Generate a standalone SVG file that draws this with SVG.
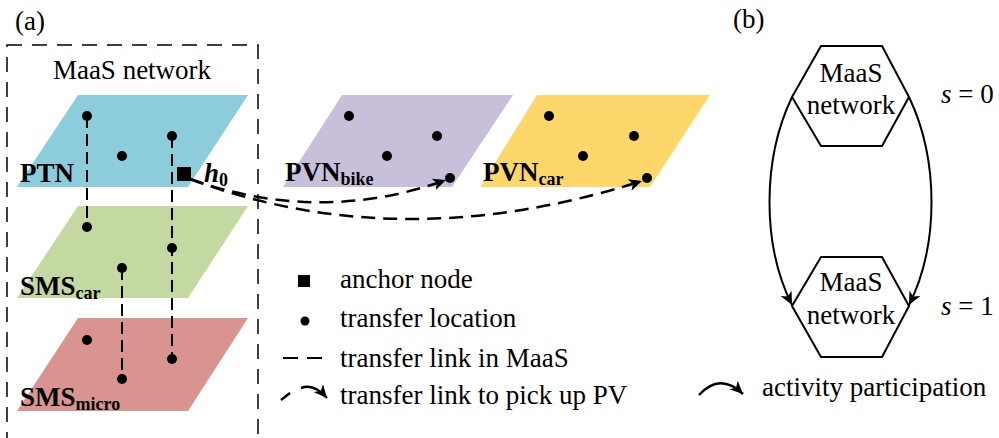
<svg xmlns="http://www.w3.org/2000/svg" width="999" height="438" viewBox="0 0 999 438" font-family="'Liberation Serif', 'DejaVu Serif', serif">
<style>
text{font-family:"Liberation Serif","DejaVu Serif",serif;fill:#000}
.t{font-size:27px}
.b{font-size:27px;font-weight:bold}
.sub{font-size:18px;font-weight:bold}
.dot{fill:#000}
.vlink{stroke:#000;stroke-width:2;stroke-dasharray:12,6;fill:none}
.pv{stroke:#000;stroke-width:2.5;stroke-dasharray:14,8;fill:none}
.solid{stroke:#000;stroke-width:2;fill:none}
.hex{fill:#fff;stroke:#000;stroke-width:2}
</style>
<defs>
<marker id="ah" markerUnits="userSpaceOnUse" markerWidth="14" markerHeight="12" refX="13" refY="6" orient="auto">
<path d="M0,0 L13,6 L0,12 L3.5,6 z" fill="#000" stroke="none"/>
</marker>
</defs>
<text class="t" x="15" y="30">(a)</text>
<text class="t" x="733" y="28">(b)</text>
<rect x="7" y="45" width="251" height="400" fill="none" stroke="#000" stroke-width="1.5" stroke-dasharray="15,10"/>
<text class="t" x="132" y="79" text-anchor="middle">MaaS network</text>

<g id="ptn">
<polygon points="78,95 248,95 188,187 17,187" fill="#8DCDDB"/>
<text class="b" x="20" y="182">PTN</text>
</g>
<g id="sms-car">
<polygon points="78,206 248,206 188,298 17,298" fill="#C4D8A1"/>
<text class="b" x="20" y="295">SMS<tspan class="sub" dy="4">car</tspan></text>
</g>
<g id="sms-micro">
<polygon points="78,318 248,318 188,411 17,411" fill="#D99490"/>
<text class="b" x="20" y="406">SMS<tspan class="sub" dy="4">micro</tspan></text>
</g>
<g id="pvn-bike">
<polygon points="342,95 513,95 452,187 283,187" fill="#C8BFDB"/>
<text class="b" x="285" y="181">PVN<tspan class="sub" dy="4">bike</tspan></text>
</g>
<g id="pvn-car">
<polygon points="537,95 710,95 650,187 480,187" fill="#FDD66C"/>
<text class="b" x="483" y="181">PVN<tspan class="sub" dy="4">car</tspan></text>
</g>

<g id="connectors">
<line class="vlink" x1="87" y1="116" x2="87" y2="227"/>
<line class="vlink" x1="172" y1="136" x2="172" y2="359"/>
<line class="vlink" x1="122" y1="268" x2="122" y2="379"/>
<path class="pv" d="M190,179 Q320,225 446,180" marker-end="url(#ah)"/>
<path class="pv" d="M190,179 Q400,258 642,181" marker-end="url(#ah)"/>
<path class="solid" d="M792,97 C762,160 762,245 792,305" marker-end="url(#ah)"/>
<path class="solid" d="M909,97 C939,160 939,245 909,305" marker-end="url(#ah)"/>
</g>

<g id="dots">
<circle class="dot" cx="87" cy="116" r="5"/>
<circle class="dot" cx="122" cy="156" r="5"/>
<circle class="dot" cx="172" cy="136" r="5"/>
<circle class="dot" cx="87" cy="227" r="5"/>
<circle class="dot" cx="172" cy="248" r="5"/>
<circle class="dot" cx="122" cy="268" r="5"/>
<circle class="dot" cx="87" cy="340" r="5"/>
<circle class="dot" cx="172" cy="359" r="5"/>
<circle class="dot" cx="122" cy="379" r="5"/>
<circle class="dot" cx="349" cy="116" r="5"/>
<circle class="dot" cx="437" cy="136" r="5"/>
<circle class="dot" cx="387" cy="156" r="5"/>
<circle class="dot" cx="450" cy="178" r="5"/>
<circle class="dot" cx="549" cy="116" r="5"/>
<circle class="dot" cx="634" cy="136" r="5"/>
<circle class="dot" cx="583" cy="156" r="5"/>
<circle class="dot" cx="647" cy="178" r="5"/>
</g>

<g id="anchor-h0">
<rect x="177" y="167" width="14" height="14" fill="#000"/>
<text x="204" y="182" style="font-size:27px;font-weight:bold;font-style:italic">h<tspan style="font-size:18px;font-style:normal" dy="4">0</tspan></text>
</g>

<g id="maas-s0">
<polygon class="hex" points="821,46 882,46 909,97 882,146 821,146 792,97"/>
<text class="t" x="851" y="82" text-anchor="middle">MaaS</text>
<text class="t" x="851" y="114" text-anchor="middle">network</text>
</g>
<g id="maas-s1">
<polygon class="hex" points="821,257 882,257 909,306 882,357 821,357 792,306"/>
<text class="t" x="851" y="291" text-anchor="middle">MaaS</text>
<text class="t" x="851" y="324" text-anchor="middle">network</text>
</g>
<text class="t" x="941" y="103"><tspan font-style="italic">s</tspan> = 0</text>
<text class="t" x="941" y="315"><tspan font-style="italic">s</tspan> = 1</text>

<g id="legend">
<rect x="298" y="275" width="12" height="12" fill="#000"/>
<text class="t" x="340" y="288">anchor node</text>
<circle class="dot" cx="305" cy="321" r="4.5"/>
<text class="t" x="340" y="327">transfer location</text>
<line x1="283" y1="358" x2="322" y2="358" stroke="#000" stroke-width="2" stroke-dasharray="15,9"/>
<text class="t" x="340" y="367">transfer link in MaaS</text>
<line x1="281" y1="400" x2="290" y2="393" stroke="#000" stroke-width="2.5"/>
<path d="M301,388 Q314,383 327,398" fill="none" stroke="#000" stroke-width="2.5" marker-end="url(#ah)"/>
<text class="t" x="340" y="404">transfer link to pick up PV</text>
<path d="M699,395 Q720,372 743,394" fill="none" stroke="#000" stroke-width="2.5" marker-end="url(#ah)"/>
<text class="t" x="762" y="396">activity participation</text>
</g>
</svg>
